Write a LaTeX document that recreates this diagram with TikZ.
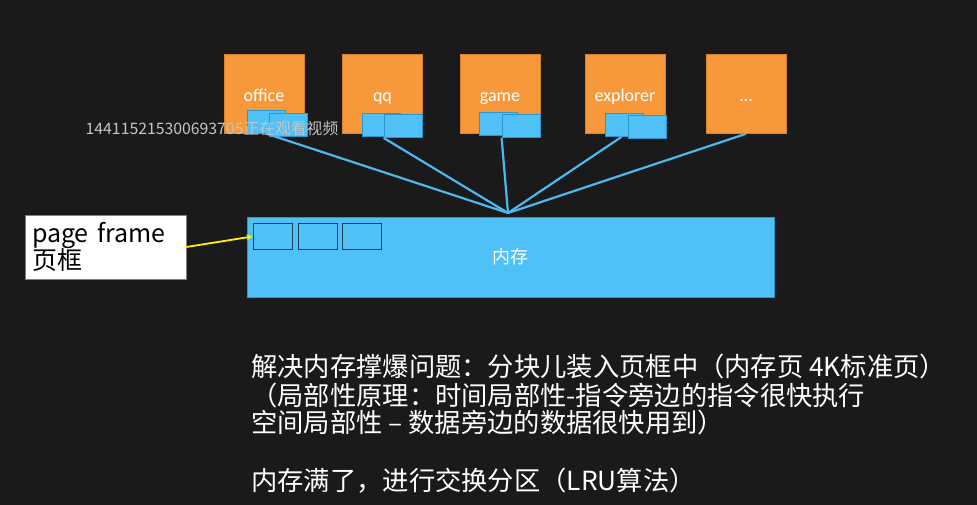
\documentclass[tikz,border=0pt]{standalone}
\usepackage{fontspec}
\setmainfont{Noto Sans CJK SC}
\newfontfamily\boxfont{Carlito}
\newfontfamily\cjkfont{Noto Sans CJK SC}
\usetikzlibrary{arrows.meta,calc}
\definecolor{bgc}{HTML}{1A1A1A}
\definecolor{orangebox}{HTML}{F7993B}
\definecolor{orangeedge}{HTML}{D9822E}
\definecolor{bluefill}{HTML}{4FC1F6}
\definecolor{blueedge}{HTML}{2C95CF}
\definecolor{blueline}{HTML}{4DB8EC}
\definecolor{frameedge}{HTML}{1E3E58}
\definecolor{arrowyellow}{HTML}{FFF200}
\definecolor{wmgray}{HTML}{C4C4C4}
\tikzset{
  progbox/.style={draw=orangeedge, line width=0.6pt, fill=orangebox, minimum width=80pt, minimum height=79pt, inner sep=0pt, text height=18pt, text depth=2pt, text=white, font=\boxfont\fontsize{18}{20}\selectfont},
  pagebox/.style={draw=blueedge, line width=0.8pt, fill=bluefill, minimum width=38pt, minimum height=23pt, inner sep=0pt},
  membox/.style={draw=blueedge, line width=0.6pt, fill=bluefill, minimum width=527pt, minimum height=80pt, inner sep=0pt, text=white, font=\cjkfont\fontsize{18}{20}\selectfont},
  framebox/.style={draw=frameedge, line width=1pt, fill=bluefill, minimum width=39pt, minimum height=25pt, inner sep=0pt},
  labelbox/.style={draw=gray, line width=0.6pt, fill=white, minimum width=161pt, minimum height=64pt, text width=147pt, align=left, inner xsep=7pt, inner ysep=0pt, text=black, font=\cjkfont\fontsize{25}{26}\selectfont},
  mapline/.style={draw=blueline, line width=2.2pt},
  pointer/.style={draw=arrowyellow, line width=1.8pt, -{Stealth[length=6pt,width=6pt]}},
  note/.style={anchor=west, inner sep=0pt, text=white, font=\cjkfont\fontsize{26.3}{30}\selectfont},
  watermark/.style={inner sep=0pt, text=wmgray, font=\cjkfont\fontsize{15.8}{17}\selectfont}
}
\begin{document}
\begin{tikzpicture}[x=1pt,y=-1pt]
\fill[bgc] (0,0) rectangle (977,505);
\useasboundingbox (0,0) rectangle (977,505);

% program boxes
\node[progbox] (office) at (264,94) {office};
\node[progbox] (qq) at (382.5,94) {qq};
\node[progbox] (game) at (500,94) {game};
\node[progbox] (explorer) at (625,94) {explorer};
\node[progbox] (more) at (746,94) {…};

% pages of each program
\node[pagebox] (o1) at (266,122) {};
\node[pagebox] (o2) at (288,125) {};
\node[pagebox] (q1) at (381,124.5) {};
\node[pagebox] (q2) at (403,126) {};
\node[pagebox] (g1) at (498.5,124) {};
\node[pagebox] (g2) at (521,126) {};
\node[pagebox] (e1) at (624.5,125) {};
\node[pagebox] (e2) at (647.5,127) {};

% memory
\node[membox] (mem) at (510.5,257) {内存};
\node[framebox] (f1) at (272.5,236.5) {};
\node[framebox] (f2) at (317.5,236.5) {};
\node[framebox] (f3) at (362,236.5) {};

% hub
\coordinate (hub) at (508,213);
\draw[mapline] ($(o1.south)+(1,0)$) -- (hub);
\draw[mapline] (q2.south west) -- (hub);
\draw[mapline] (g2.south west) -- (hub);
\draw[mapline] ($(e1.south)+(-3,0)$) -- (hub);
\draw[mapline] (more.south) -- (hub);

% page frame label
\node[labelbox] (pf) at (105.5,247) {page frame\\[-1pt]页框};
\draw[pointer] (pf.east) -- (f1.west);

% notes
\node[note] (n1) at (251,367) {解决内存撑爆问题：分块儿装入页框中（内存页 4K标准页）};
\node[note] (n2) at (251,396) {（局部性原理：时间局部性-指令旁边的指令很快执行};
\node[note] (n3) at (251,423) {空间局部性 – 数据旁边的数据很快用到）};
\node[note] (n4) at (251,481) {内存满了，进行交换分区（LRU算法）};

% watermark
\node[watermark] (wm) at (212,129) {144115215300693705正在观看视频};
\end{tikzpicture}
\end{document}
